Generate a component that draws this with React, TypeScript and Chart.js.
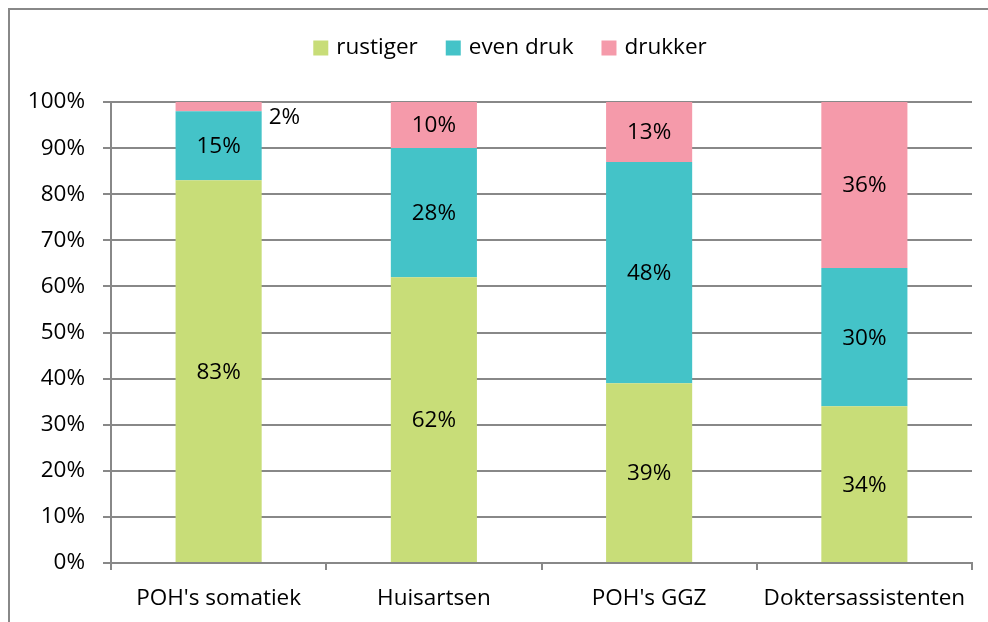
import React, { useEffect, useRef } from "react";
import { Chart, registerables } from "chart.js";

Chart.register(...registerables);

const categories = ["POH's somatiek", "Huisartsen", "POH's GGZ", "Doktersassistenten"];
const rustiger = [83, 62, 39, 34];
const evenDruk = [15, 28, 48, 30];
const drukker = [2, 10, 13, 36];
const seriesNames = ["rustiger", "even druk", "drukker"];
const seriesColors = ["#C8DD78", "#44C3C8", "#F59AAA"];

const FONT = "'Open Sans', sans-serif";
const FS = 22.5;

const labelPlugin = {
  id: "segLabels",
  afterDatasetsDraw(chart: any) {
    const ctx = chart.ctx;
    ctx.save();
    ctx.fillStyle = "#000";
    ctx.font = `${FS}px ${FONT}`;
    ctx.textBaseline = "middle";
    chart.data.datasets.forEach((ds: any, di: number) => {
      const meta = chart.getDatasetMeta(di);
      meta.data.forEach((bar: any, i: number) => {
        const v = ds.data[i];
        const top = Math.min(bar.y, bar.base);
        const bot = Math.max(bar.y, bar.base);
        const h = bot - top;
        const txt = `${v}%`;
        if (h >= 24) {
          ctx.textAlign = "center";
          ctx.fillText(txt, bar.x, (top + bot) / 2 + 1);
        } else {
          ctx.textAlign = "left";
          ctx.fillText(txt, bar.x + bar.width / 2 + 7, bot + 6);
        }
      });
    });
    ctx.restore();
  },
};

const legendPlugin = {
  id: "customLegend",
  afterDraw(chart: any) {
    const ctx = chart.ctx;
    ctx.save();
    ctx.font = `${FS}px ${FONT}`;
    ctx.textBaseline = "middle";
    ctx.textAlign = "left";
    const box = 15;
    const gapText = 8;
    const gapItem = 28;
    const widths = seriesNames.map((n) => ctx.measureText(n).width);
    const total =
      widths.reduce((a, w) => a + box + gapText + w, 0) + gapItem * (seriesNames.length - 1);
    let x = 510 - total / 2;
    const cy = 48;
    seriesNames.forEach((n, i) => {
      ctx.fillStyle = seriesColors[i];
      ctx.fillRect(x, cy - box / 2, box, box);
      ctx.fillStyle = "#000";
      ctx.fillText(n, x + box + gapText, cy);
      x += box + gapText + widths[i] + gapItem;
    });
    ctx.restore();
  },
};

const framePlugin = {
  id: "frame",
  beforeDraw(chart: any) {
    const ctx = chart.ctx;
    ctx.save();
    ctx.fillStyle = "#fff";
    ctx.fillRect(0, 0, chart.width, chart.height);
    ctx.strokeStyle = "#888";
    ctx.lineWidth = 2;
    ctx.strokeRect(9, 9, chart.width + 20, chart.height + 20);
    ctx.restore();
  },
};

export default function App() {
  const ref = useRef<HTMLCanvasElement | null>(null);
  useEffect(() => {
    document.body.style.margin = "0";
    const chart = new Chart(ref.current!, {
      type: "bar",
      data: {
        labels: categories,
        datasets: [rustiger, evenDruk, drukker].map((d, i) => ({
          label: seriesNames[i],
          data: d,
          backgroundColor: seriesColors[i],
          borderWidth: 0,
          categoryPercentage: 1,
          barPercentage: 0.4,
        })),
      },
      options: {
        animation: false,
        responsive: false,
        maintainAspectRatio: false,
        layout: { padding: { left: 0, right: 16, top: 102, bottom: 0 } },
        plugins: {
          tooltip: { enabled: false },
          legend: { display: false },
        },
        scales: {
          x: {
            stacked: true,
            offset: true,
            grid: {
              offset: true,
              drawOnChartArea: false,
              drawTicks: true,
              tickLength: 7,
              color: "#888",
              lineWidth: 2,
            },
            border: { color: "#888", width: 2 },
            ticks: { color: "#000", font: { size: FS, family: FONT }, padding: 15, maxRotation: 0 },
            afterFit: (s: any) => {
              s.height = 59;
            },
          },
          y: {
            stacked: true,
            min: 0,
            max: 100,
            ticks: {
              stepSize: 10,
              color: "#000",
              font: { size: FS, family: FONT },
              padding: 18,
              callback: (v: any) => `${v}%`,
            },
            grid: { color: "#888", lineWidth: 2, tickLength: 8 },
            border: { color: "#888", width: 2 },
            afterFit: (s: any) => {
              s.width = 111;
            },
          },
        },
      },
      plugins: [framePlugin, labelPlugin, legendPlugin],
    });
    return () => chart.destroy();
  }, []);
  return (
    <div style={{ position: "absolute", left: 0, top: 0, width: 988, height: 622 }}>
      <canvas ref={ref} width={988} height={622} style={{ width: 988, height: 622 }} />
    </div>
  );
}
